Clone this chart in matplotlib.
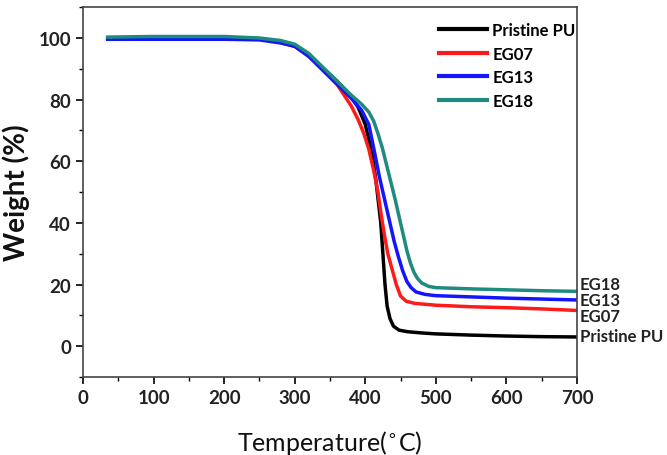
import matplotlib
matplotlib.use('Agg')
import matplotlib.pyplot as plt

plt.rcParams['font.family'] = ['Lato', 'DejaVu Sans']
plt.rcParams['mathtext.fontset'] = 'dejavusans'

# TGA curves
t_pu = [35, 100, 200, 250, 280, 300, 320, 340, 360, 380, 390, 400, 410, 415, 419, 422, 425, 428,
        431, 435, 440, 448, 460, 480, 500, 550, 600, 650, 700]
w_pu = [100, 100.2, 100.2, 99.8, 98.8, 97.5, 94.5, 90.2, 86, 81, 77.5, 72, 62, 54, 46, 40, 30, 20,
        13, 9, 6.5, 5.2, 4.7, 4.3, 4.0, 3.6, 3.3, 3.1, 3.0]

t_eg07 = [35, 100, 200, 250, 280, 300, 320, 340, 360, 380, 390, 398, 405, 412, 418, 423, 428, 432,
          438, 444, 450, 458, 470, 500, 550, 600, 650, 700]
w_eg07 = [100, 100, 100, 99.7, 98.6, 97.3, 94.3, 89.8, 85, 78, 73.5, 69, 64, 57, 50, 42, 35, 30,
          25, 20, 16.3, 14.6, 13.9, 13.3, 12.8, 12.5, 12.1, 11.6]

t_eg13 = [35, 100, 200, 250, 280, 300, 320, 340, 360, 380, 395, 405, 414, 420, 428, 435, 441, 447,
          453, 459, 465, 472, 485, 500, 550, 600, 650, 700]
w_eg13 = [99.6, 99.6, 99.6, 99.4, 98.4, 97.3, 94, 89.5, 85, 80.5, 76.5, 72, 62, 55, 47, 40, 34, 29,
          24.5, 21, 19, 17.6, 16.8, 16.4, 16, 15.6, 15.3, 15.0]

t_eg18 = [35, 100, 200, 250, 280, 300, 320, 340, 360, 380, 395, 405, 412, 418, 424, 430, 436, 442,
          448, 454, 459, 464, 469, 474, 480, 490, 500, 550, 600, 650, 700]
w_eg18 = [100.3, 100.5, 100.5, 100, 99.2, 98, 95, 90.5, 86, 81.5, 78.5, 76, 73, 69, 64.5, 59, 53.5, 48,
          42, 36, 31, 27, 24, 22, 20.5, 19.4, 19, 18.6, 18.3, 18, 17.8]

labels = ['Pristine PU', 'EG07', 'EG13', 'EG18']
colors = ['black', '#ff1a1a', '#1414ff', '#1f8a80']
end_label_y = [3.4, 9.9, 15.1, 20.2]

fig = plt.figure(figsize=(6.67, 4.56), dpi=100)
ax = fig.add_axes([0.1244, 0.171, 0.7406, 0.811])

series = [(t_pu, w_pu), (t_eg07, w_eg07), (t_eg13, w_eg13), (t_eg18, w_eg18)]
for (t, w), lab, c in zip(series, labels, colors):
    ax.plot(t, w, color=c, lw=2.5, label=lab)

ax.set_xlim(0, 700)
ax.set_ylim(-10, 110)
ax.set_xticks(range(0, 701, 100))
ax.set_xticks(range(0, 701, 50), minor=True)
ax.set_yticks(range(0, 101, 20))
ax.set_yticks(range(-10, 111, 10), minor=True)
ax.tick_params(which='major', direction='out', length=5, width=1.2, labelsize=13.5)
ax.tick_params(which='minor', direction='out', length=3, width=1.0)
for lbl in ax.get_xticklabels() + ax.get_yticklabels():
    lbl.set_fontweight('bold')
    lbl.set_color('#222222')
for sp in ax.spines.values():
    sp.set_linewidth(1.2)
    sp.set_color('#444444')

ax.set_xlabel(r'Temperature($^{\circ}$C)', fontsize=18, labelpad=16, color='#111111')
ax.set_ylabel('Weight (%)', fontsize=20, fontweight='bold', labelpad=6, color='#111111')

leg = ax.legend(loc='upper left', bbox_to_anchor=(0.69, 1.0), frameon=False,
                prop={'weight': 'bold', 'size': 12}, handlelength=2.9,
                handletextpad=0.3, labelspacing=0.45)
for line in leg.get_lines():
    line.set_linewidth(3)

for lab, y in zip(labels, end_label_y):
    ax.annotate(lab, xy=(700, y), xytext=(2, 0), textcoords='offset points',
                ha='left', va='center', fontsize=12, fontweight='bold',
                color='#222222', annotation_clip=False)

fig.savefig('out.png', dpi=100)
